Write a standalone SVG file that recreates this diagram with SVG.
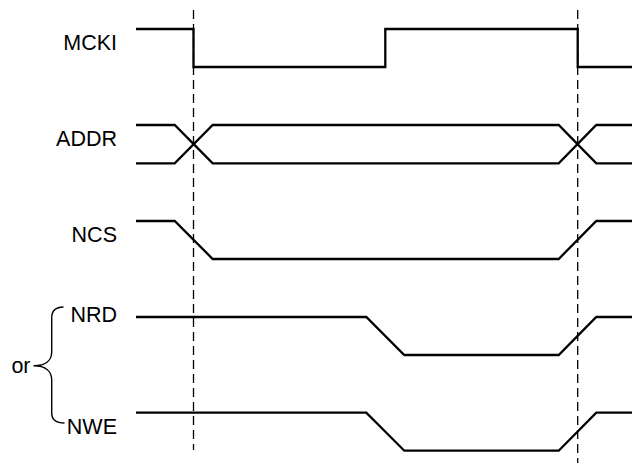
<svg xmlns="http://www.w3.org/2000/svg" width="632" height="464" viewBox="0 0 632 464">
<style>
.sig{fill:none;stroke:#000;stroke-width:2.3;stroke-linejoin:miter}
.dash{fill:none;stroke:#000;stroke-width:1.3;stroke-dasharray:9,5}
.lbl{font-family:"Liberation Sans",Arial,sans-serif;font-size:21.5px;fill:#000;text-anchor:end}
.brace{fill:none;stroke:#000;stroke-width:1.4}
</style>
<rect width="632" height="464" fill="#fff"/>
<g id="guides">
<line class="dash" x1="193.5" y1="10" x2="193.5" y2="450"/>
<line class="dash" x1="577.7" y1="10" x2="577.7" y2="463"/>
</g>
<g id="MCKI">
<text class="lbl" x="117" y="50">MCKI</text>
<polyline class="sig" points="136,29 193.5,29 193.5,67 385.3,67 385.3,29 577.7,29 577.7,67 632,67"/>
</g>
<g id="ADDR">
<text class="lbl" x="117" y="146">ADDR</text>
<polyline class="sig" points="136,125 174.7,125 212.7,163.3 558.7,163.3 596.3,125 632,125"/>
<polyline class="sig" points="136,163.3 174.7,163.3 212.7,125 558.7,125 596.3,163.3 632,163.3"/>
</g>
<g id="NCS">
<text class="lbl" x="117" y="242">NCS</text>
<polyline class="sig" points="136,221 174.7,221 212.7,259 558.7,259 596.3,221 632,221"/>
</g>
<g id="NRD">
<text class="lbl" x="117" y="322">NRD</text>
<polyline class="sig" points="136,317 366.3,317 404.3,355 558.7,355 596.3,317 632,317"/>
</g>
<g id="NWE">
<text class="lbl" x="117" y="434">NWE</text>
<polyline class="sig" points="136,412.7 366.3,412.7 404.3,450.7 558.7,450.7 596.3,412.7 632,412.7"/>
</g>
<g id="or">
<text class="lbl" x="30.5" y="373">or</text>
<path class="brace" d="M63.5,307 C56,307 51.7,311 51.7,318 L51.7,352 C51.7,360 46,365.7 33.5,365.7 C46,365.7 51.7,371.5 51.7,380 L51.7,413 C51.7,420 56,423 64.5,423"/>
</g>
</svg>
